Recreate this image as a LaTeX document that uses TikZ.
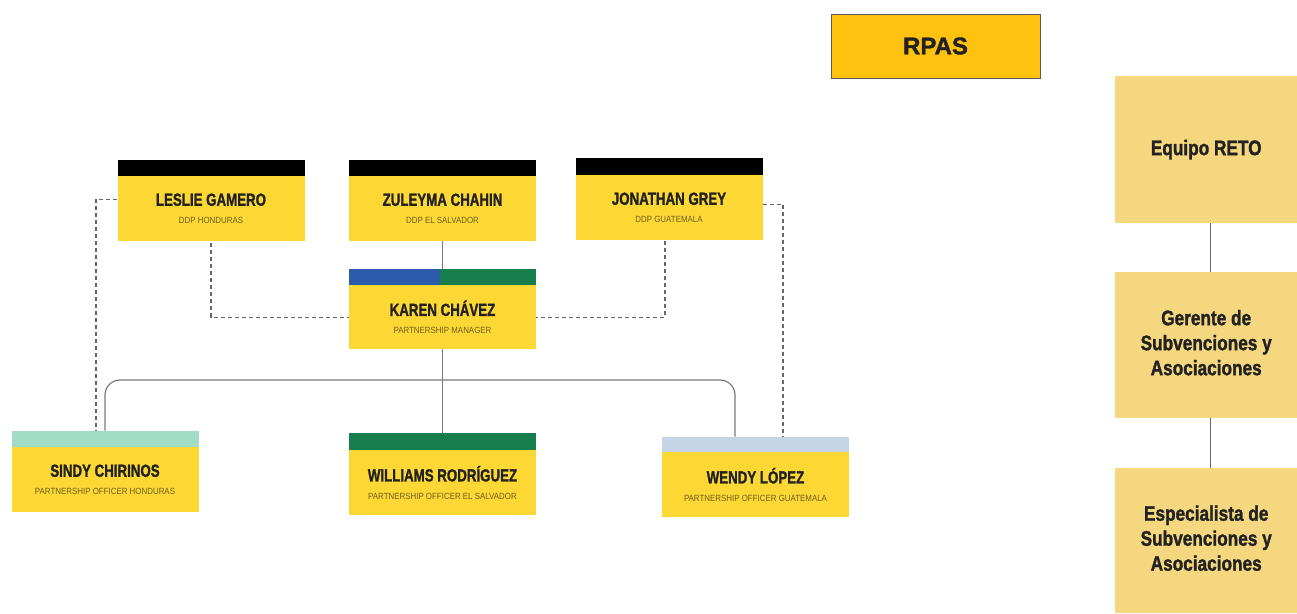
\documentclass[tikz,border=0pt]{standalone}
\usepackage{fontspec}
\setmainfont{Liberation Sans}
\newfontfamily\heavyfont[BoldFont={Liberation Sans Bold}, BoldFeatures={FakeBold=1.6}]{Liberation Sans}
\usetikzlibrary{calc}
\definecolor{cardyellow}{HTML}{FDD835}
\definecolor{rightyellow}{HTML}{F5D77F}
\definecolor{rpasfill}{HTML}{FFC20E}
\definecolor{bandblue}{HTML}{2B5BAA}
\definecolor{bandgreen}{HTML}{187D4D}
\definecolor{bandteal}{HTML}{A0DCC6}
\definecolor{bandsky}{HTML}{C6D4E8}
\definecolor{linegray}{HTML}{7A7A7A}
\definecolor{subcol}{HTML}{6E5E1E}
\definecolor{namecol}{HTML}{222222}
\newcommand{\nm}[1]{\scalebox{0.76}[1]{\fontsize{17.5}{20}\selectfont\heavyfont\bfseries #1}}
\newcommand{\sbt}[1]{\scalebox{0.88}[1]{\fontsize{9}{11}\selectfont\color{subcol}#1}}
\begin{document}
\begin{tikzpicture}[x=1pt,y=-1pt,
  cardbody/.style={fill=cardyellow, draw=none, minimum width=187pt, minimum height=65pt,
     inner sep=0pt, anchor=north, align=center, text=namecol},
  cardband/.style={draw=none, minimum width=187pt, minimum height=16pt, inner sep=0pt, anchor=south},
  solidline/.style={draw=linegray, line width=1.2pt},
  dashline/.style={draw=black!60, line width=1.2pt, dash pattern=on 4pt off 3pt},
  rightbox/.style={fill=rightyellow, draw=none, inner sep=0pt, anchor=north west, align=center,
     text=namecol}
]
\useasboundingbox (0,0) rectangle (1297,613);
\fill[white] (0,0) rectangle (1297,613);

% RPAS
\node[fill=rpasfill, draw=black!65, line width=1pt, minimum width=209pt, minimum height=64pt,
  inner sep=0pt, anchor=north west, text=namecol] (rpas) at (830.5,13.5)
  {\fontsize{24}{28}\selectfont\heavyfont\bfseries RPAS};

% cards (body anchored at band bottom)
\node[cardbody] (leslie) at (211,176) {\nm{LESLIE GAMERO}\\[6pt]\sbt{DDP HONDURAS}};
\node[cardband, fill=black] (leslieband) at (leslie.north) {};

\node[cardbody] (zuleyma) at (442.5,176) {\nm{ZULEYMA CHAHIN}\\[6pt]\sbt{DDP EL SALVADOR}};
\node[cardband, fill=black] (zuleymaband) at (zuleyma.north) {};

\node[cardbody] (jonathan) at (669,175) {\nm{JONATHAN GREY}\\[6pt]\sbt{DDP GUATEMALA}};
\node[cardband, fill=black, minimum height=17pt] (jonathanband) at (jonathan.north) {};

\node[cardbody, minimum height=64pt] (karen) at (442.5,285) {\nm{KAREN CHÁVEZ}\\[6pt]\sbt{PARTNERSHIP MANAGER}};
\node[cardband, fill=bandgreen,
  path picture={\fill[bandblue] (path picture bounding box.north west) rectangle ([xshift=-3pt]path picture bounding box.south);}]
  (karenband) at (karen.north) {};

\node[cardbody] (sindy) at (105,447) {\nm{SINDY CHIRINOS}\\[6pt]\sbt{PARTNERSHIP OFFICER HONDURAS}};
\node[cardband, fill=bandteal] (sindyband) at (sindy.north) {};

\node[cardbody] (williams) at (442.5,450) {\nm{WILLIAMS RODRÍGUEZ}\\[6pt]\sbt{PARTNERSHIP OFFICER EL SALVADOR}};
\node[cardband, fill=bandgreen, minimum height=17pt] (williamsband) at (williams.north) {};

\node[cardbody] (wendy) at (755.5,452) {\nm{WENDY LÓPEZ}\\[6pt]\sbt{PARTNERSHIP OFFICER GUATEMALA}};
\node[cardband, fill=bandsky, minimum height=15pt] (wendyband) at (wendy.north) {};

% solid connectors
\draw[solidline] (zuleyma.south) -- (karenband.north);
\draw[solidline] (karen.south) -- (williamsband.north);
\coordinate (bar) at (442.5,380);
\draw[solidline, rounded corners=15pt] (sindyband.north) |- (bar) -| ([xshift=-20.5pt]wendyband.north);

% dashed connectors
\draw[dashline] ([yshift=-2pt]leslie.south) |- (karen.west);
\draw[dashline] ([xshift=-4pt,yshift=-1pt]jonathan.south) |- (karen.east);
\draw[dashline] ([yshift=9.5pt]leslie.west) -| ([xshift=-9pt]sindyband.north);
\draw[dashline] ([yshift=3.5pt]jonathan.east) -| ([xshift=27.5pt]wendyband.north);

% right column
\node[rightbox, minimum width=182pt, minimum height=147pt] (reto) at (1115,76)
  {\scalebox{0.82}[1]{\fontsize{21}{25}\selectfont\heavyfont\bfseries Equipo RETO}};
\node[rightbox, minimum width=182pt, minimum height=146pt] (gerente) at (1115,272)
  {\scalebox{0.82}[1]{\fontsize{21}{25}\selectfont\heavyfont\bfseries\begin{tabular}{@{}c@{}}Gerente de\\Subvenciones y\\Asociaciones\end{tabular}}};
\node[rightbox, minimum width=182pt, minimum height=145pt] (especialista) at (1115,468)
  {\scalebox{0.82}[1]{\fontsize{21}{25}\selectfont\heavyfont\bfseries\begin{tabular}{@{}c@{}}Especialista de\\Subvenciones y\\Asociaciones\end{tabular}}};
\draw[draw=black!60, line width=1.2pt] ([xshift=4pt]reto.south) -- ([xshift=4pt]gerente.north);
\draw[draw=black!60, line width=1.2pt] ([xshift=4pt]gerente.south) -- ([xshift=4pt]especialista.north);
\end{tikzpicture}
\end{document}
